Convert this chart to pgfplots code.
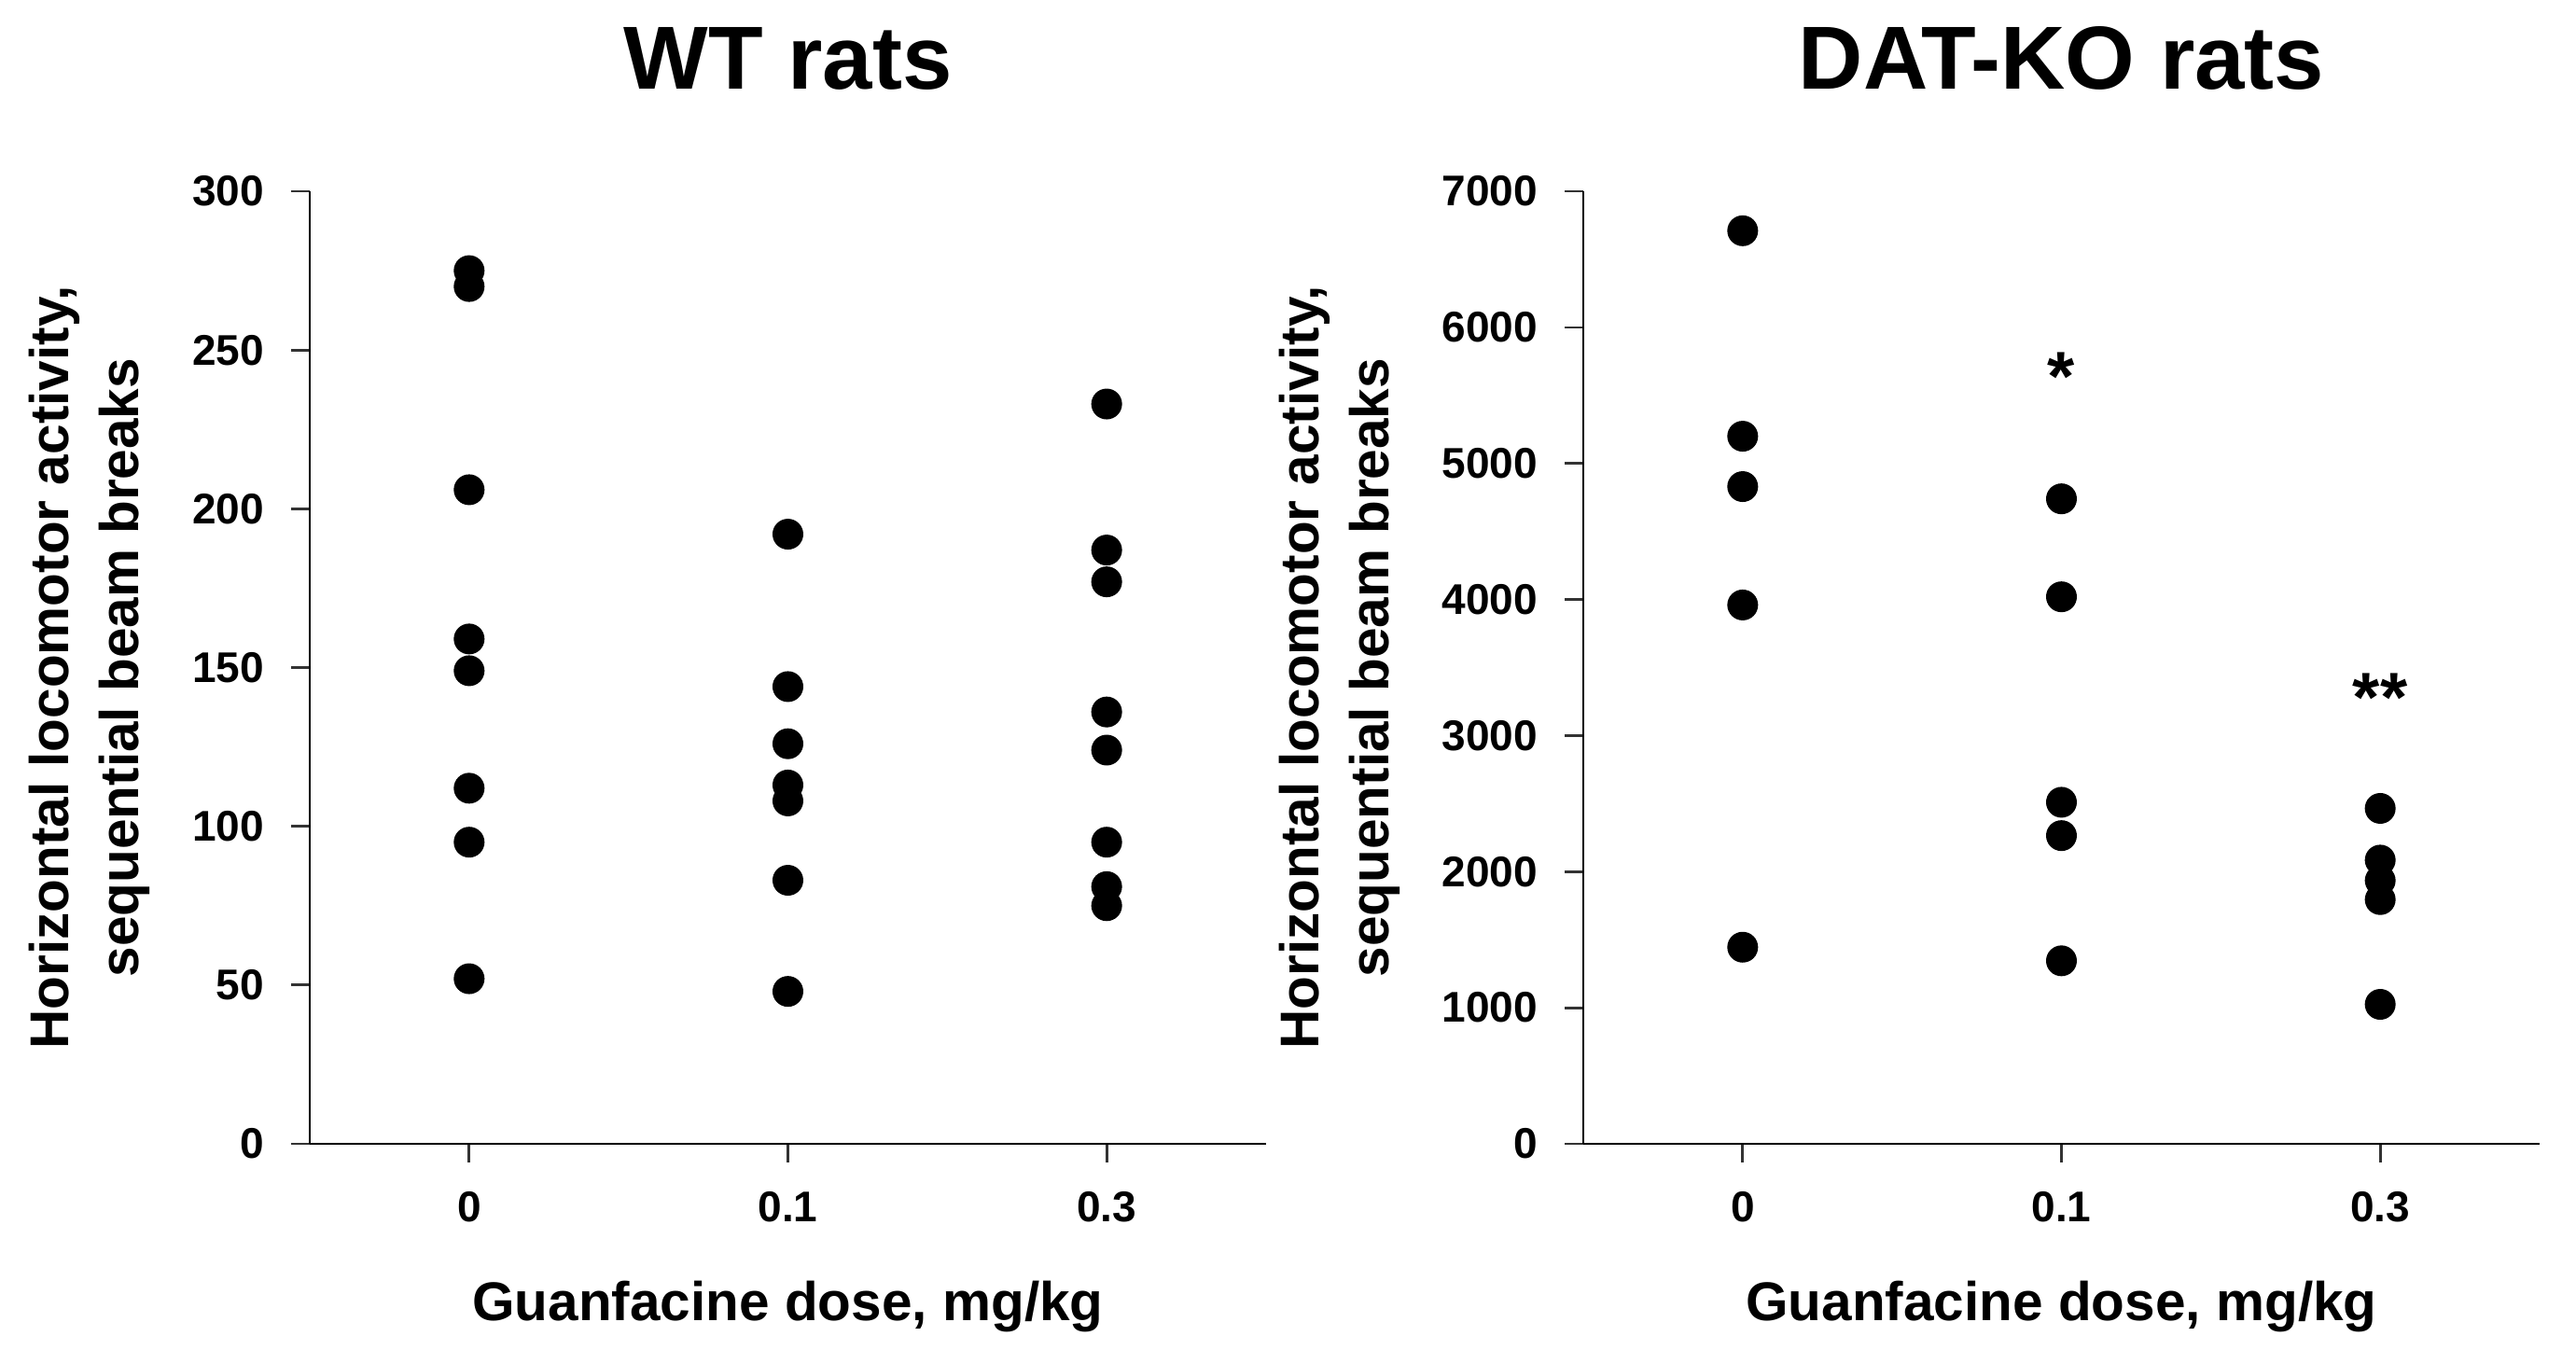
\documentclass[border=0pt]{standalone}
\usepackage{fontspec}
\setmainfont{Liberation Sans}
\usepackage{pgfplots}
\pgfplotsset{compat=1.18}
\begin{document}
\begin{tikzpicture}
\path[use as bounding box] (0pt,0pt) rectangle (552.2pt,-289.4pt);
\pgfplotsset{
 ratstyle/.style={
  scale only axis, width=205pt, height=204.2pt,
  axis x line=bottom, axis y line=left,
  axis line style={-, line width=0.55pt, black},
  xmin=-0.5, xmax=2.5, xtick={0,1,2}, xticklabels={0,0.1,0.3},
  tick align=outside, major tick length=4pt,
  tick style={line width=0.55pt, black!80},
  ymin=0,
  ticklabel style={font=\fontsize{9.2}{11}\selectfont\bfseries, inner sep=0pt},
  /pgf/number format/assume math mode=true,
  /pgf/number format/1000 sep={},
  scaled y ticks=false,
  yticklabel style={xshift=-5.6pt},
  xticklabel style={yshift=-6pt},
  clip=false,
  xlabel={Guanfacine dose, mg/kg},
  xlabel style={font=\fontsize{11.7}{14}\selectfont\bfseries, at={(axis description cs:0.5,0)}, anchor=base, yshift=-37.8pt, inner sep=0pt},
  title style={font=\fontsize{19.2}{22}\selectfont\bfseries, at={(axis description cs:0.5,1)}, anchor=base, yshift=16pt, inner sep=0pt},
  every axis plot post/.append style={black, only marks, mark=*, mark size=3.1pt, mark options={solid, fill=black, draw=black}}
 }
}
\begin{axis}[ratstyle, at={(66.4pt,-245.2pt)}, anchor=south west,
  ymax=300, ytick={0,50,...,300},
  title={WT rats},
  ylabel={Horizontal locomotor activity,\\sequential beam breaks},
  ylabel style={font=\fontsize{11.7}{15}\selectfont\bfseries, align=center, at={([xshift=-34pt]axis description cs:0,0.5)}, anchor=south, inner sep=0pt}]
\addplot coordinates {(0,275) (0,270) (0,206) (0,159) (0,149) (0,112) (0,95) (0,52)};
\addplot coordinates {(1,192) (1,144) (1,126) (1,113) (1,108) (1,83) (1,48)};
\addplot coordinates {(2,233) (2,187) (2,177) (2,136) (2,124) (2,95) (2,81) (2,75)};
\end{axis}
\begin{axis}[ratstyle, at={(339.4pt,-245.2pt)}, anchor=south west,
  ymax=7000, ytick={0,1000,...,7000},
  title={DAT-KO rats},
  ylabel={Horizontal locomotor activity,\\sequential beam breaks},
  ylabel style={font=\fontsize{11.7}{15}\selectfont\bfseries, align=center, at={([xshift=-39pt]axis description cs:0,0.5)}, anchor=south, inner sep=0pt}]
\addplot coordinates {(0,6710) (0,5200) (0,4830) (0,3960) (0,1445)};
\addplot coordinates {(1,4740) (1,4020) (1,2510) (1,2265) (1,1345)};
\addplot coordinates {(2,2465) (2,2085) (2,1935) (2,1795) (2,1025)};
\node[font=\fontsize{15}{17}\selectfont\bfseries, anchor=base, inner sep=0pt, yshift=-7pt] at (axis cs:1,5700) {*};
\node[font=\fontsize{15}{17}\selectfont\bfseries, anchor=base, inner sep=0pt, yshift=-7pt] at (axis cs:2,3340) {**};
\end{axis}
\end{tikzpicture}
\end{document}
